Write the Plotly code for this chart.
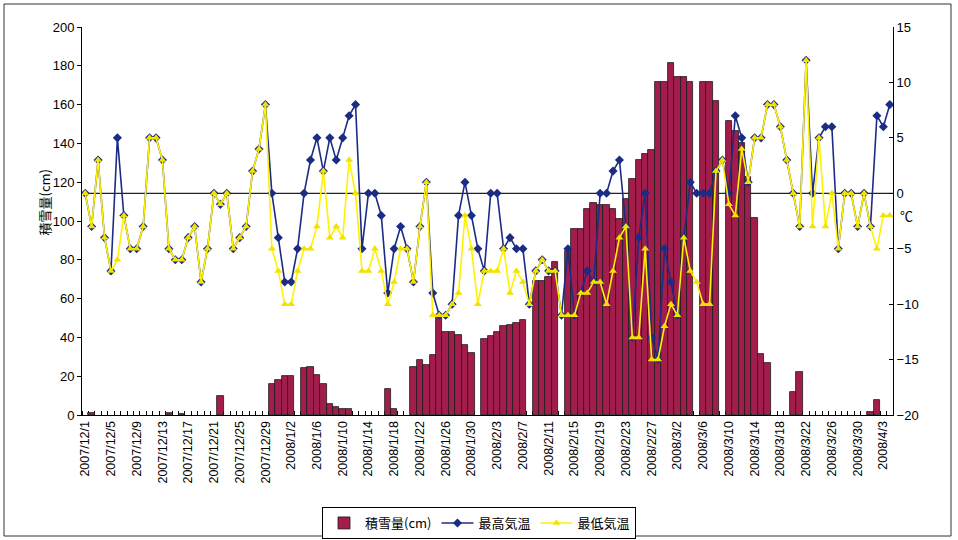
import plotly.graph_objects as go
import pandas as pd

# ---- data (2007/12/1 .. 2008/4/4, daily) ----
start_date = "2007-12-01"
n_days = 126

snow_cm = [0, 1, 0, 0, 0, 0, 0, 0, 0, 0, 0, 0, 0, 1, 0, 0.5, 0, 0, 0, 0,
           0, 10, 0, 0, 0, 0, 0, 0, 0, 16, 18, 20, 20, 0, 24, 25, 20.5, 16, 5.5, 4,
           3, 3, 0, 0, 0, 0, 0, 13.5, 3, 0, 0, 25, 28.5, 26, 31, 51, 43, 43, 41, 36,
           32, 0, 39, 40.5, 43, 46, 46.5, 47.5, 49, 0, 69, 69, 71, 79, 0, 84.5, 96, 96, 106, 109.5,
           108.5, 108.5, 106, 101, 111.5, 121.5, 131.5, 134.5, 136.5, 171.5, 171.5, 181.5, 174, 174, 171.5, 0, 171.5, 171.5, 162, 0,
           151.5, 146.5, 140, 122.5, 101.5, 31.5, 27, 0, 0, 0, 12, 22, 0, 0, 0, 0, 0, 0, 0, 0,
           0, 0, 1.5, 7.5, 0, 0]

t_max = [0, -3, 3, -4, -7, 5, -2, -5, -5, -3, 5, 5, 3, -5, -6, -6, -4, -3, -8, -5,
         0, -1, 0, -5, -4, -3, 2, 4, 8, 0, -4, -8, -8, -5, 0, 3, 5, 2, 5, 3,
         5, 7, 8, -5, 0, 0, -2, -9, -5, -3, -5, -8, -3, 1, -9, -11, -11, -10, -2, 1,
         -2, -5, -7, 0, 0, -5, -4, -5, -5, -10, -7, -6, -7, -7, -11, -5, -11, -9, -7, -8,
         0, 0, 2, 3, -3, -13, -4, 0, -13, -15, -5, -8, -11, -4, 1, 0, 0, 0, 2, 3,
         0, 7, 5, 1, 5, 5, 8, 8, 6, 3, 0, -3, 12, 0, 5, 6, 6, -5, 0, 0,
         -3, 0, -3, 7, 6, 8]

t_min = [0, -3, 3, -4, -7, -6, -2, -5, -5, -3, 5, 5, 3, -5, -6, -6, -4, -3, -8, -5,
         0, -1, 0, -5, -4, -3, 2, 4, 8, -5, -7, -10, -10, -7, -5, -5, -3, 2, -4, -3,
         -4, 3, 0, -7, -7, -5, -7, -10, -8, -5, -5, -8, -3, 1, -11, -11, -11, -10, -9, -2,
         -5, -10, -7, -7, -7, -5, -9, -7, -8, -10, -7, -6, -7, -7, -11, -11, -11, -9, -9, -8,
         -8, -10, -7, -4, -3, -13, -13, -5, -15, -15, -12, -10, -11, -4, -7, -8, -10, -10, 2, 3,
         -1, -2, 4, 1, 5, 5, 8, 8, 6, 3, 0, -3, 12, -3, 5, -3, 0, -5, 0, 0,
         -3, 0, -3, -5, -2, -2]

tick_labels = ["2007/12/1", "2007/12/5", "2007/12/9", "2007/12/13", "2007/12/17",
               "2007/12/21", "2007/12/25", "2007/12/29", "2008/1/2", "2008/1/6",
               "2008/1/10", "2008/1/14", "2008/1/18", "2008/1/22", "2008/1/26",
               "2008/1/30", "2008/2/3", "2008/2/7", "2008/2/11", "2008/2/15",
               "2008/2/19", "2008/2/23", "2008/2/27", "2008/3/2", "2008/3/6",
               "2008/3/10", "2008/3/14", "2008/3/18", "2008/3/22", "2008/3/26",
               "2008/3/30", "2008/4/3"]

series_names = ["積雪量(cm)", "最高気温", "最低気温"]

# ---- figure ----
dates = pd.date_range(start_date, periods=n_days)
x = list(range(len(dates)))
tick_pos = list(range(0, len(dates), 4))[:len(tick_labels)]

FONT = "Liberation Sans, Arial, Noto Sans CJK JP"
JP = "Noto Sans CJK JP, Liberation Sans"

W, H = 958, 540
L, R, T, B = 82, 65, 27, 125
PW, PH = W - L - R, H - T - B


def px_x(px):
    return (px - L) / PW


def px_y(py):
    return (H - B - py) / PH


fig = go.Figure()
fig.add_trace(go.Bar(
    x=x, y=[v if v > 0 else None for v in snow_cm], name=series_names[0],
    marker=dict(color="#A21D4C", line=dict(color="#1a1a1a", width=0.8)),
    yaxis="y"))
fig.add_trace(go.Scatter(
    x=x, y=t_max, name=series_names[1], mode="lines+markers",
    line=dict(color="#1C2C85", width=1.6),
    marker=dict(symbol="diamond", size=7, color="#1C2C85"),
    yaxis="y2"))
fig.add_trace(go.Scatter(
    x=x, y=t_min, name=series_names[2], mode="lines+markers",
    line=dict(color="#FFF200", width=1.6),
    marker=dict(symbol="triangle-up", size=7, color="#F2E200"),
    yaxis="y2"))

fig.update_layout(
    width=W, height=H,
    margin=dict(l=L, r=R, t=T, b=B, autoexpand=False),
    paper_bgcolor="white", plot_bgcolor="white",
    bargap=0,
    showlegend=True,
    legend=dict(orientation="h", xref="container", yref="container",
                x=0.5, xanchor="center", y=1 - 523 / H, yanchor="middle",
                bordercolor="black", borderwidth=1, bgcolor="white",
                font=dict(family=JP, size=13, color="black"),
                itemwidth=32, tracegroupgap=0),
    font=dict(family=FONT, size=12, color="black"),
    xaxis=dict(
        range=[-0.5, n_days - 0.5], automargin=False,
        tickmode="array", tickvals=tick_pos, ticktext=tick_labels,
        tickangle=-90, ticks="", showgrid=False, zeroline=False,
        showline=True, linecolor="black", linewidth=1,
        tickfont=dict(family=FONT, size=12.5, color="black"),
        minor=dict(tickmode="linear", tick0=-0.5, dtick=1, ticks="inside",
                   ticklen=4, tickcolor="black", tickwidth=1, showgrid=False),
        layer="below traces"),
    yaxis=dict(
        range=[0, 200], tickmode="linear", tick0=0, dtick=20, automargin=False,
        ticks="outside", ticklen=4, tickcolor="black",
        showgrid=False, zeroline=False, showline=True, linecolor="black", linewidth=1,
        tickfont=dict(family=FONT, size=13, color="black")),
    yaxis2=dict(
        range=[-20, 15], tickmode="linear", tick0=-20, dtick=5, automargin=False,
        overlaying="y", side="right",
        ticks="inside", ticklen=4, tickcolor="black",
        showgrid=False, zeroline=False, showline=True, linecolor="black", linewidth=1,
        tickfont=dict(family=FONT, size=13, color="black")),
)

# 0 °C reference line
fig.add_shape(type="line", xref="paper", x0=0, x1=1, yref="y2", y0=0, y1=0,
              line=dict(color="#222222", width=1.2), layer="below")

# outer chart frame
fig.add_shape(type="rect", xref="paper", yref="paper",
              x0=px_x(4), x1=px_x(951), y0=px_y(536), y1=px_y(4),
              line=dict(color="#333333", width=1), layer="below")

# axis titles
fig.add_annotation(text="積雪量(cm)", xref="paper", yref="paper",
                   x=px_x(32), y=px_y(203), textangle=-90,
                   showarrow=False, font=dict(family=JP, size=13, color="black"))
fig.add_annotation(text="℃", xref="paper", yref="paper",
                   x=px_x(915), y=px_y(215),
                   showarrow=False, font=dict(family=JP, size=13, color="black"))

fig.write_html("out.html", config={"displayModeBar": False},
               post_script="document.body.style.margin='0px';document.body.style.padding='0px';")
